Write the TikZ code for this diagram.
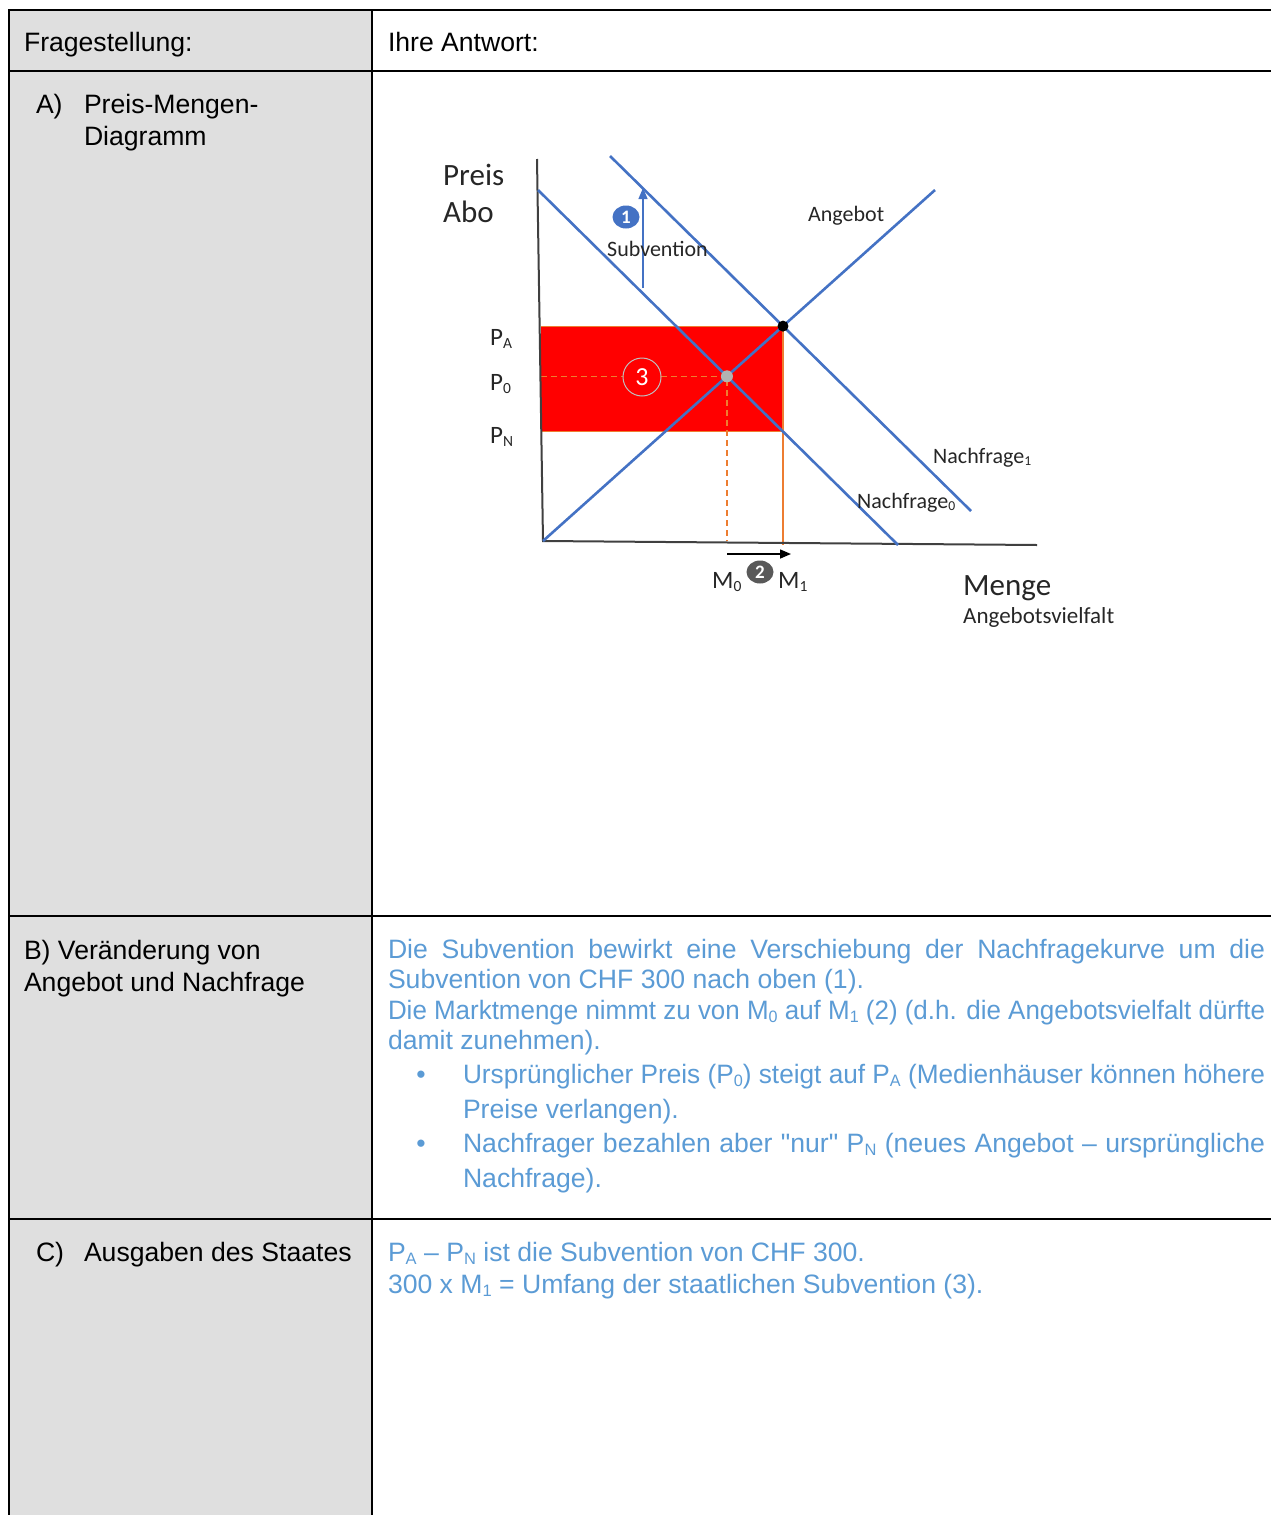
\documentclass[tikz,border=0pt]{standalone}
\usepackage{fontspec}
\setmainfont{Liberation Sans}
\newfontfamily\calib{Carlito}
\usepackage{graphicx}
\usetikzlibrary{arrows.meta,shapes.geometric}
\definecolor{tblue}{HTML}{5B9BD5}
\definecolor{lblue}{HTML}{4472C4}
\definecolor{cgray}{HTML}{DFDFDF}
\definecolor{orng}{HTML}{ED7D31}
\definecolor{axgray}{HTML}{404040}
\newlength\jlen
\newcommand\jline[2]{\settowidth\jlen{#2}\ifdim\jlen<#1\relax\makebox[#1][s]{#2}\else\resizebox{#1}{\height}{#2}\fi}
\newcommand\lowsub[1]{\raisebox{-0.12em}{\scalebox{0.62}{#1}}}
\newcommand\strq{\XeTeXglyph\XeTeXglyphindex "quotedbl" \relax}
\tikzset{
  body/.style={anchor=base west, inner sep=0pt, outer sep=0pt, font=\fontsize{26.6}{31}\selectfont},
  ans/.style={body, text=tblue},
  tline/.style={draw=black, line width=2pt},
  dlab/.style={anchor=base west, inner sep=0pt, font=\calib\fontsize{22}{26}\selectfont, text=black!85},
  biglab/.style={dlab, font=\calib\fontsize{31}{36}\selectfont},
  plab/.style={dlab, font=\calib\fontsize{25}{30}\selectfont},
  curve/.style={draw=lblue, line width=2.6pt},
  axisline/.style={draw=axgray, line width=2pt},
  numdot/.style={ellipse, inner sep=0pt, minimum width=27pt, minimum height=23pt, text=white, font=\calib\bfseries\fontsize{19}{19}\selectfont},
}
\begin{document}
\begin{tikzpicture}[x=1pt,y=-1pt]
\useasboundingbox (0,0) rectangle (1271,1515);
% table
\fill[cgray] (9,10) rectangle (372,1515);
\draw[tline] (9,1515) -- (9,10) -- (1271,10);
\draw[tline] (372,10) -- (372,1515);
\draw[tline] (9,71) -- (1271,71);
\draw[tline] (9,916) -- (1271,916);
\draw[tline] (9,1219) -- (1271,1219);
% header
\node[body] (h1) at (24,51) {Fragestellung:};
\node[body] (h2) at (388,51) {Ihre Antwort:};
% row A
\node[body] (aA) at (36,113) {A)};
\node[body] (aT1) at (84,113) {Preis-Mengen-};
\node[body] (aT2) at (84,145) {Diagramm};
% row B
\node[body] (bT1) at (24,959) {B) Veränderung von};
\node[body] (bT2) at (24,991) {Angebot und Nachfrage};
\node[ans] (b1) at (388,958) {\jline{877pt}{Die Subvention bewirkt eine Verschiebung der Nachfragekurve um die}};
\node[ans] (b2) at (388,988) {Subvention von CHF 300 nach oben (1).};
\node[ans] (b3) at (388,1019) {\jline{877pt}{Die Marktmenge nimmt zu von M\lowsub{0} auf M\lowsub{1} (2) (d.h. die Angebotsvielfalt dürfte}};
\node[ans] (b4) at (388,1049) {damit zunehmen).};
\node[ans, anchor=base] (bu1) at (421,1083) {•};
\node[ans] (b5) at (463,1083) {\jline{802pt}{Ursprünglicher Preis (P\lowsub{0}) steigt auf P\lowsub{A} (Medienhäuser können höhere}};
\node[ans] (b6) at (463,1118) {Preise verlangen).};
\node[ans, anchor=base] (bu2) at (421,1152) {•};
\node[ans] (b7) at (463,1152) {\jline{802pt}{Nachfrager bezahlen aber \strq nur\strq\ P\lowsub{N} (neues Angebot – ursprüngliche}};
\node[ans] (b8) at (463,1187) {Nachfrage).};
% row C
\node[body] (cC) at (36,1261) {C)};
\node[body] (cT) at (84,1261) {Ausgaben des Staates};
\node[ans] (c1) at (388,1261) {P\lowsub{A} – P\lowsub{N} ist die Subvention von CHF 300.};
\node[ans] (c2) at (388,1293) {300 x M\lowsub{1} = Umfang der staatlichen Subvention (3).};
% diagram coordinates
\coordinate (O) at (543,541);
\coordinate (Ytop) at (537,159);
\coordinate (Xend) at (1037,545);
\coordinate (N0a) at (538,190);
\coordinate (N0b) at (898,545);
\coordinate (N1a) at (610,156);
\coordinate (N1b) at (971,511);
\coordinate (Sa) at (543,541);
\coordinate (Sb) at (935,190);
\coordinate (E1) at (intersection of Sa--Sb and N1a--N1b);
\coordinate (E0) at (intersection of Sa--Sb and N0a--N0b);
\coordinate (E1b) at (E1 |- Xend);
\coordinate (B1) at (intersection of N0a--N0b and E1--E1b);
\coordinate (RL) at (541,0);
\coordinate (E0b) at (E0 |- O);
% subsidy area
\fill[red] (RL |- E1) rectangle (B1);
\draw[orng, line width=0.8pt] (RL |- E1) -- (E1);
\draw[orng, line width=0.8pt] (RL |- B1) -- (B1);
\draw[orng, line width=1.4pt] (E1) -- (E1b);
\draw[orng, line width=1.2pt, dash pattern=on 6pt off 4pt] (RL |- E0) -- (E0) -- (E0b);
% axes
\draw[axisline] (Ytop) -- (O) -- (Xend);
% curves
\draw[curve] (N0a) -- (N0b);
\draw[curve] (N1a) -- (N1b);
\draw[curve] (Sa) -- (Sb);
% equilibrium points
\fill[black] (E1) circle (5.5pt);
\fill[black!30] (E0) circle (6pt);
% circle 3
\node[circle, draw=black!25, line width=1pt, fill=red, minimum size=38pt, inner sep=0pt, text=white, font=\calib\fontsize{26}{26}\selectfont] (n3) at (642,377) {3};
% subsidy arrow
\coordinate (SA0) at (643,288);
\coordinate (SA1) at (643,188);
\draw[lblue, line width=1.3pt, -{Triangle[width=9pt,length=11pt]}] (SA0) -- (SA1);
\node[numdot, fill=lblue] (n1) at (626,217) {1};
\node[dlab] (lsub) at (607,256) {Subvention};
% quantity arrow
\coordinate (MA0) at (727,554);
\coordinate (MA1) at (791,554);
\draw[black, line width=1.5pt, -{Triangle[width=9pt,length=11pt]}] (MA0) -- (MA1);
\node[numdot, fill=black!65] (n2) at (760,572) {2};
% labels
\node[biglab] (lpreis) at (443,185) {Preis};
\node[biglab] (labo) at (443,222) {Abo};
\node[plab] (lpa) at (490,345) {P\lowsub{A}};
\node[plab] (lp0) at (490,390) {P\lowsub{0}};
\node[plab] (lpn) at (490,443) {P\lowsub{N}};
\node[dlab] (lang) at (808,221) {Angebot};
\node[dlab] (ln1) at (933,463) {Nachfrage\lowsub{1}};
\node[dlab] (ln0) at (857,508) {Nachfrage\lowsub{0}};
\node[plab] (lm0) at (712,588) {M\lowsub{0}};
\node[plab] (lm1) at (778,588) {M\lowsub{1}};
\node[biglab] (lmenge) at (963,595) {Menge};
\node[dlab, font=\calib\fontsize{23}{27}\selectfont] (lvielf) at (963,623) {Angebotsvielfalt};
\end{tikzpicture}
\end{document}
